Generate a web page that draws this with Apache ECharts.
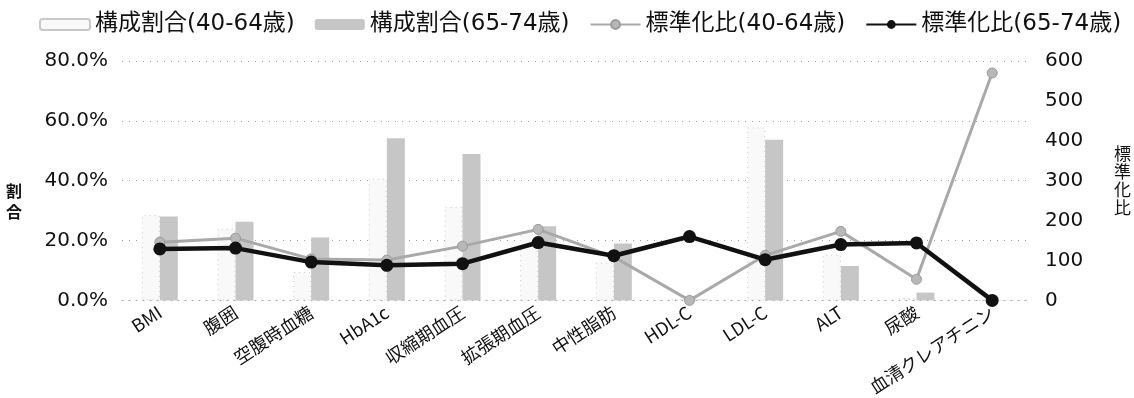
<!DOCTYPE html>
<html>
<head>
<meta charset="utf-8">
<script src="https://cdn.jsdelivr.net/npm/echarts@6/dist/echarts.min.js"></script>
<style>
  html, body { margin: 0; padding: 0; background: #fff; }
  #chart { width: 1134px; height: 398px; }
</style>
</head>
<body>
<div id="chart"></div>
<script>
// 健診項目ごとの有所見者の構成割合(%)と標準化比
const categories = ['BMI', '腹囲', '空腹時血糖', 'HbA1c', '収縮期血圧', '拡張期血圧', '中性脂肪', 'HDL-C', 'LDL-C', 'ALT', '尿酸', '血清クレアチニン'];
const ratio4064 = [28.5, 24.0, 9.5, 40.7, 31.3, 23.0, 12.6, 0.4, 57.8, 15.3, 0.8, 0.1];
const ratio6574 = [28.0, 26.3, 21.0, 54.2, 48.9, 24.8, 19.0, 0.3, 53.7, 11.5, 2.6, 0.1];
const smr4064 = [146, 156, 104, 101, 136, 178, 109, 0, 113, 173, 53, 570];
const smr6574 = [129, 131, 96, 88, 92, 145, 112, 160, 102, 140, 144, 0];
const leftTicks = [0, 20, 40, 60, 80];
const rightTicks = [0, 100, 200, 300, 400, 500, 600];
const seriesNames = ['構成割合(40-64歳)', '構成割合(65-74歳)', '標準化比(40-64歳)', '標準化比(65-74歳)'];

const JP = '"Noto Sans CJK JP", sans-serif';
const NUM = '"DejaVu Sans", "Noto Sans CJK JP", sans-serif';
const gridDots = { color: '#a0a0a0', width: 1, type: [1, 6] };

const chart = echarts.init(document.getElementById('chart'), null, { renderer: 'canvas' });
chart.setOption({
  animation: false,
  backgroundColor: '#fff',
  textStyle: { fontFamily: JP, color: '#111' },
  legend: {
    top: 8,
    left: 34,
    itemWidth: 50,
    itemHeight: 11,
    itemGap: 20,
    textStyle: { fontFamily: NUM, fontSize: 23, color: '#111' },
    data: seriesNames
  },
  grid: { left: 122, right: 99, top: 61, bottom: 95 },
  xAxis: {
    type: 'category',
    data: categories,
    axisLine: { lineStyle: gridDots },
    axisTick: { show: false },
    axisLabel: { rotate: 33, fontFamily: JP, fontSize: 18, color: '#111', margin: 10, interval: 0 }
  },
  yAxis: [
    {
      type: 'value',
      min: leftTicks[0],
      max: leftTicks[leftTicks.length - 1],
      interval: leftTicks[1] - leftTicks[0],
      name: '\n\n割\n合',
      nameLocation: 'middle',
      nameRotate: 0,
      nameGap: 100,
      nameTextStyle: { fontFamily: JP, fontSize: 16, fontWeight: 'bold', lineHeight: 21, color: '#111' },
      axisLine: { show: false },
      axisTick: { show: false },
      splitLine: { lineStyle: gridDots },
      axisLabel: { fontFamily: NUM, fontSize: 20, color: '#111', margin: 14, formatter: v => v.toFixed(1) + '%' }
    },
    {
      type: 'value',
      min: rightTicks[0],
      max: rightTicks[rightTicks.length - 1],
      interval: rightTicks[1] - rightTicks[0],
      name: '標\n準\n化\n比',
      nameLocation: 'middle',
      nameRotate: 0,
      nameGap: 84,
      nameTextStyle: { fontFamily: JP, fontSize: 17, lineHeight: 18, color: '#111' },
      axisLine: { show: false },
      axisTick: { show: false },
      splitLine: { show: false },
      axisLabel: { fontFamily: NUM, fontSize: 20, color: '#111', margin: 15 }
    }
  ],
  series: [
    {
      name: seriesNames[0],
      type: 'bar',
      data: ratio4064,
      barWidth: 18,
      barGap: '0%',
      itemStyle: { color: '#f9f9f9', borderColor: '#c8c8c8', borderWidth: 1, borderType: [1, 4] }
    },
    {
      name: seriesNames[1],
      type: 'bar',
      data: ratio6574,
      barWidth: 18,
      itemStyle: { color: '#c6c6c6' }
    },
    {
      name: seriesNames[2],
      type: 'line',
      yAxisIndex: 1,
      data: smr4064,
      symbol: 'circle',
      symbolSize: 10,
      lineStyle: { color: '#a9a9a9', width: 3 },
      itemStyle: { color: '#b8b8b8', borderColor: '#9a9a9a', borderWidth: 1 }
    },
    {
      name: seriesNames[3],
      type: 'line',
      yAxisIndex: 1,
      data: smr6574,
      symbol: 'circle',
      symbolSize: 13,
      lineStyle: { color: '#111', width: 4.5 },
      itemStyle: { color: '#111' }
    }
  ]
});
</script>
</body>
</html>
